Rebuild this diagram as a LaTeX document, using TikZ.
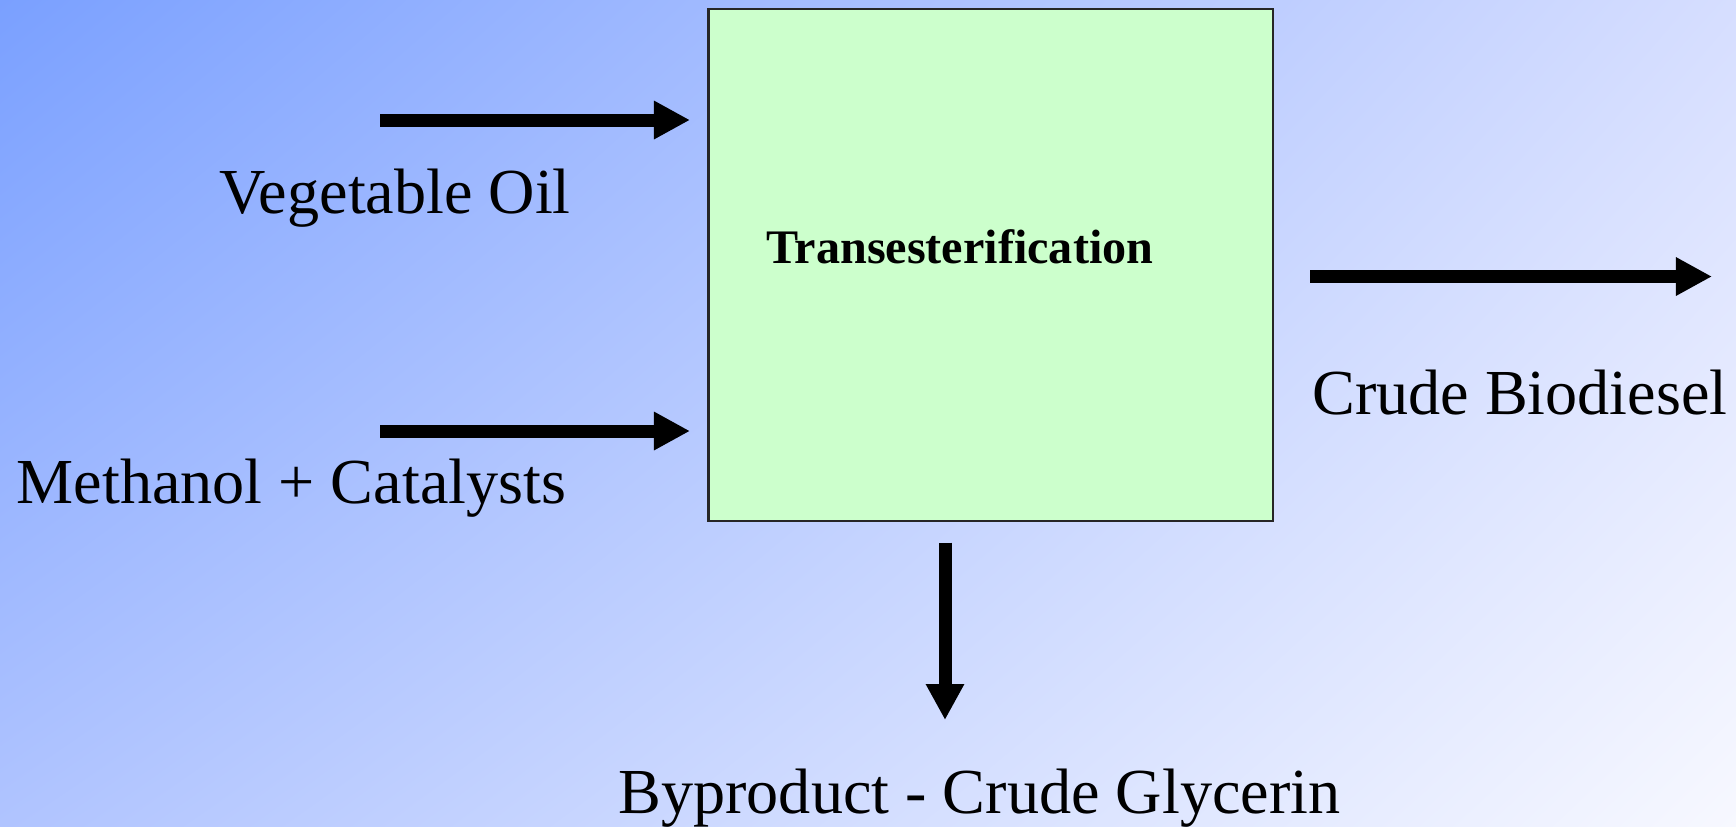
\documentclass[tikz,border=0pt]{standalone}
\usepackage{fontspec}
\setmainfont{Liberation Serif}
\usetikzlibrary{arrows.meta,shadings}
\definecolor{bgUL}{RGB}{122,160,255}
\definecolor{bgUR}{RGB}{214,222,255}
\definecolor{bgLL}{RGB}{176,196,255}
\definecolor{bgLR}{RGB}{247,248,255}
\definecolor{boxfill}{RGB}{204,255,204}
\begin{document}
\begin{tikzpicture}[x=0.01cm,y=-0.01cm,
  flow/.style={line width=0.13cm,-{Triangle[length=0.36cm,width=0.36cm]}},
  lbl/.style={inner sep=0pt,anchor=base west,font=\fontsize{18.25}{21}\selectfont},
  procbox/.style={draw=black!85,line width=0.6pt,fill=boxfill,minimum width=5.646cm,minimum height=5.115cm,inner sep=0pt}]
\useasboundingbox (0,0) rectangle (1736,826);
\shade[upper left=bgUL,upper right=bgUR,lower left=bgLL,lower right=bgLR] (0,0) rectangle (1736,826);
\node[procbox] (box) at (990.9,264.7) {};
\node[lbl,font=\bfseries\fontsize{13.7}{16}\selectfont] (title) at (765.5,263.5) {Transesterification};
\node[lbl] (veg) at (219,213.7) {Vegetable Oil};
\node[lbl] (meth) at (16,503.7) {Methanol + Catalysts};
\node[lbl] (bio) at (1311.5,414) {Crude Biodiesel};
\node[lbl] (gly) at (617.8,813.7) {Byproduct - Crude Glycerin};
\coordinate (v1) at (380,120);
\coordinate (v2) at (690,120);
\coordinate (m1) at (380,431);
\coordinate (m2) at (690,431);
\coordinate (b1) at (1310,276.5);
\coordinate (b2) at (1712,276.5);
\coordinate (g1) at (945,542.5);
\coordinate (g2) at (945,720);
\draw[flow] (v1) -- (v2);
\draw[flow] (m1) -- (m2);
\draw[flow] (b1) -- (b2);
\draw[flow] (g1) -- (g2);
\end{tikzpicture}
\end{document}
